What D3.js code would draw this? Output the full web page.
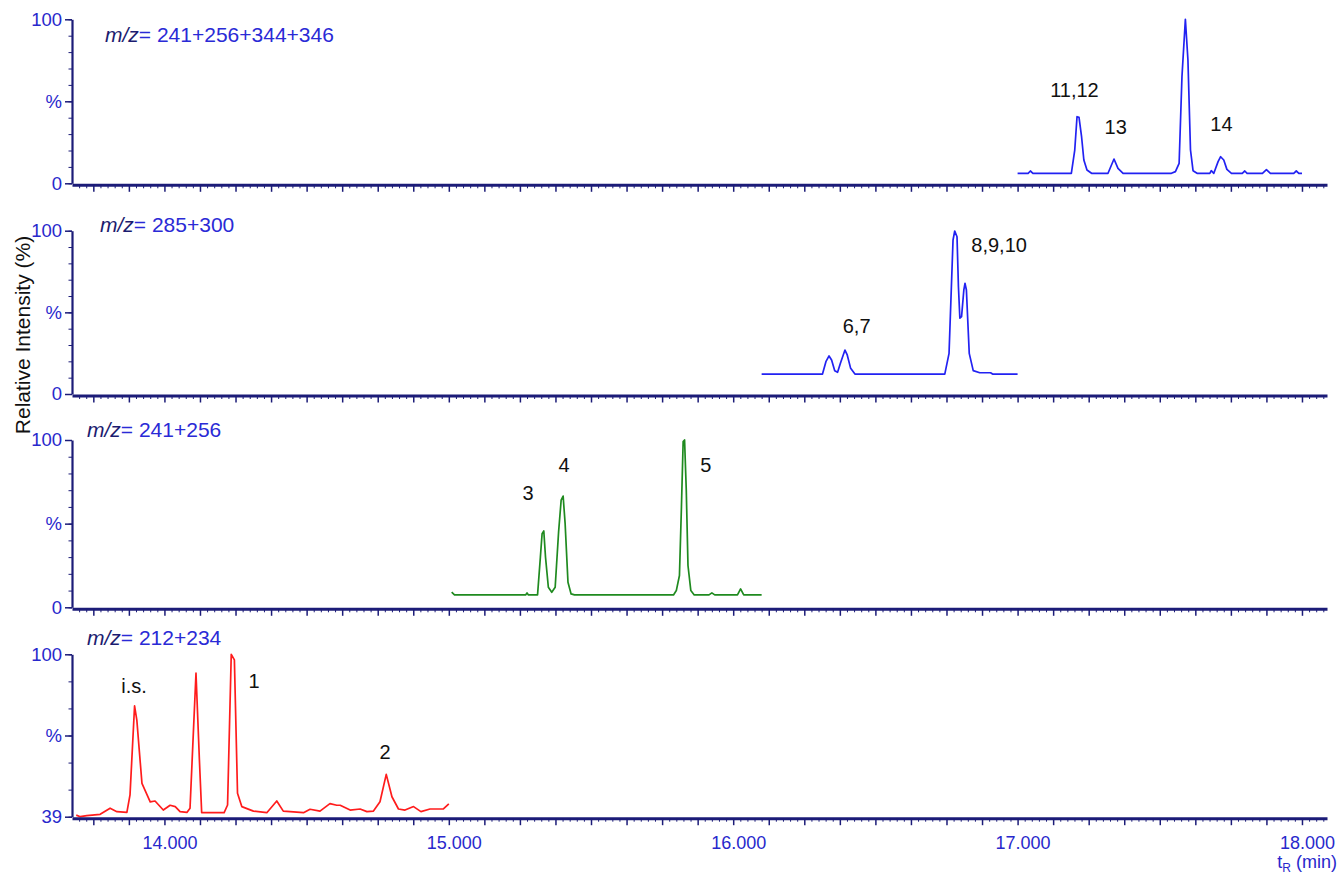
<!DOCTYPE html>
<html>
<head>
<meta charset="utf-8">
<script src="https://cdn.jsdelivr.net/npm/d3@7"></script>
<style>
body { margin: 0; background: #fff; }
svg { display: block; font-family: "Liberation Sans", Arial, Helvetica, sans-serif; }
.axis path, .axis line { stroke: #1c1c78; }
.axis text { fill: #2828cc; }
</style>
</head>
<body>
<script>
// Spur 1: m/z 241+256+344+346 (blau)
var trace1Time = [17.000, 17.037, 17.045, 17.054, 17.189, 17.201, 17.209, 17.216, 17.225, 17.233, 17.244, 17.260, 17.318, 17.339, 17.353, 17.371, 17.541, 17.555, 17.568, 17.578, 17.590, 17.599, 17.608, 17.617, 17.631, 17.676, 17.681, 17.690, 17.705, 17.714, 17.725, 17.736, 17.752, 17.790, 17.799, 17.807, 17.861, 17.875, 17.889, 17.971, 17.980, 17.989, 18.000];
var trace1Int = [6.1, 6.1, 7.5, 6.1, 6.1, 20.3, 40.6, 40.2, 28.4, 14.2, 8.1, 6.1, 6.1, 14.8, 9.1, 6.1, 6.1, 7.1, 12.2, 65, 100, 75.2, 20.3, 7.7, 6.1, 6.1, 7.7, 6.1, 13.2, 16.2, 14.2, 8.5, 6.1, 6.1, 7.5, 6.1, 6.1, 8.3, 6.1, 6.1, 7.5, 6.1, 6.1];

// Spur 2: m/z 285+300 (blau)
var trace2Time = [16.100, 16.314, 16.326, 16.337, 16.346, 16.357, 16.367, 16.377, 16.393, 16.401, 16.413, 16.428, 16.744, 16.759, 16.773, 16.779, 16.787, 16.792, 16.797, 16.803, 16.811, 16.815, 16.820, 16.830, 16.844, 16.867, 16.905, 16.912, 17.000];
var trace2Int = [12.2, 12.2, 19.8, 23.3, 20.8, 14.3, 13.3, 18.8, 26.9, 23.9, 15.7, 12.2, 12.2, 24.9, 94.3, 99.8, 96.3, 65.7, 46.4, 47.4, 63.7, 67.8, 63.7, 24.9, 14.3, 13.0, 13.0, 12.2, 12.2];

// Spur 3: m/z 241+256 (grün)
var trace3Time = [15.010, 15.020, 15.270, 15.275, 15.280, 15.312, 15.322, 15.328, 15.334, 15.340, 15.350, 15.362, 15.374, 15.386, 15.395, 15.402, 15.409, 15.419, 15.430, 15.442, 15.790, 15.800, 15.811, 15.818, 15.824, 15.829, 15.835, 15.841, 15.851, 15.863, 15.915, 15.925, 15.935, 16.015, 16.026, 16.037, 16.100];
var trace3Int = [9.0, 7.4, 7.4, 8.6, 7.4, 7.4, 30, 44, 45.6, 30, 12, 9, 12, 45, 64, 66.5, 50, 15, 8, 7.4, 7.4, 10, 19, 60, 99, 100, 70, 25, 10, 7.4, 7.4, 8.6, 7.4, 7.4, 11, 7.4, 7.4];

// Spur 4: m/z 212+234 (rot), Skala 39-100
var trace4Time = [13.690, 13.704, 13.727, 13.774, 13.809, 13.833, 13.868, 13.879, 13.895, 13.903, 13.921, 13.950, 13.967, 13.996, 14.020, 14.038, 14.055, 14.079, 14.090, 14.111, 14.123, 14.131, 14.210, 14.222, 14.235, 14.246, 14.257, 14.272, 14.313, 14.360, 14.395, 14.418, 14.489, 14.512, 14.547, 14.582, 14.606, 14.618, 14.653, 14.688, 14.712, 14.735, 14.758, 14.780, 14.800, 14.823, 14.846, 14.876, 14.902, 14.934, 14.981, 15.000];
var trace4Int = [39.6, 39.0, 39.4, 39.9, 42.2, 40.9, 40.6, 47.2, 80.6, 75.3, 51.5, 44.6, 44.9, 41.5, 43.3, 42.8, 40.9, 40.6, 42.2, 92.9, 60.3, 40.5, 40.5, 43.4, 100, 97.9, 47.8, 42.8, 41.1, 40.5, 44.9, 41.1, 40.5, 41.8, 41.1, 43.9, 43.3, 43.3, 41.5, 41.9, 40.9, 41.1, 44.6, 54.9, 46.5, 41.9, 41.5, 42.8, 40.9, 41.9, 41.9, 43.8];

// Massen-Titel
var massLabels = ["241+256+344+346", "285+300", "241+256", "212+234"];
// y-Minimum je Panel
var yMins = [0, 0, 0, 39];

// Peak-Beschriftungen (Text, Zeit, Intensität)
var peaks1 = [["11,12", 17.200, 52.6], ["13", 17.345, 30.1], ["14", 17.717, 31.9]];
var peaks2 = [["6,7", 16.434, 37.4], ["8,9,10", 16.935, 87]];
var peaks3 = [["3", 15.279, 64.1], ["4", 15.405, 80.9], ["5", 15.904, 80.9]];
var peaks4 = [["i.s.", 13.893, 85.5], ["1", 14.315, 87.3], ["2", 14.776, 60.7]];

// x-Achsen Beschriftungen
var xTickLabels = [14, 15, 16, 17, 18];

var width = 1340, height = 877;

// Panels zusammenbauen
var panels = [
    {time: trace1Time, val: trace1Int, color: "#2222f2", top: 19.3, bottom: 183.3, titleX: 105, titleY: 42, peaks: peaks1},
    {time: trace2Time, val: trace2Int, color: "#2222f2", top: 230.7, bottom: 394, titleX: 100, titleY: 231.7, peaks: peaks2},
    {time: trace3Time, val: trace3Int, color: "#1f8a1f", top: 440, bottom: 607.3, titleX: 87, titleY: 436.7, peaks: peaks3},
    {time: trace4Time, val: trace4Int, color: "#ff1c1c", top: 654.3, bottom: 816.7, titleX: 87, titleY: 645, peaks: peaks4}
];
panels.forEach((p, i) => { p.mass = massLabels[i]; p.yMin = yMins[i]; });

var svg = d3.select("body").append("svg")
    .attr("width", width)
    .attr("height", height);

// gemeinsame x Skala
var xScale = d3.scaleLinear()
    .domain([13.675, 18.088])
    .range([72, 1327]);

var allTicks = d3.range(548, 724).map(k => k * 0.025);
var minorTicks = allTicks.filter((d, k) => (k + 548) % 5 !== 0);
var majorTicks = allTicks.filter((d, k) => (k + 548) % 5 === 0 && d >= 13.74 && d <= 18.01);

var line = d3.line()
    .x(d => xScale(d[0]));

panels.forEach((p, i) => {
    var yScale = d3.scaleLinear()
        .domain([p.yMin, 100])
        .range([p.bottom, p.top]);

    var g = svg.append("g");

    // Spur zeichnen
    line.y(d => yScale(d[1]));
    g.append("path")
        .datum(d3.zip(p.time, p.val))
        .attr("fill", "none")
        .attr("stroke", p.color)
        .attr("stroke-width", 1.7)
        .attr("stroke-linejoin", "round")
        .attr("d", line);

    // y Achse: kleine Ticks
    var minorY = p.yMin === 0 ? d3.range(0, 101, 10) : d3.range(7).map(k => p.yMin + k * (100 - p.yMin) / 6);
    g.append("g")
        .attr("class", "axis")
        .attr("transform", "translate(72,0)")
        .call(d3.axisLeft(yScale).tickValues(minorY).tickSize(3.5).tickSizeOuter(0).tickFormat(""))
        .call(a => a.select(".domain").attr("stroke-width", 2.2));

    // y Achse: große Ticks mit Beschriftung
    var mid = (p.yMin + 100) / 2;
    g.append("g")
        .attr("class", "axis")
        .attr("transform", "translate(72,0)")
        .call(d3.axisLeft(yScale).tickValues([p.yMin, mid, 100]).tickSize(7).tickSizeOuter(0).tickPadding(3)
            .tickFormat(d => d === 100 ? "100" : (d === mid ? "%" : String(p.yMin))))
        .call(a => a.select(".domain").remove())
        .call(a => a.selectAll("line").attr("stroke-width", 1.5))
        .call(a => a.selectAll("text").style("font-size", "18.5px"));

    // x Achse
    var axisY = p.bottom + 1.5;
    g.append("g")
        .attr("class", "axis")
        .attr("transform", "translate(0," + axisY + ")")
        .call(d3.axisBottom(xScale).tickValues(minorTicks).tickSize(3.5).tickSizeOuter(0).tickFormat(""))
        .call(a => a.select(".domain").attr("stroke-width", 3));
    g.append("g")
        .attr("class", "axis")
        .attr("transform", "translate(0," + axisY + ")")
        .call(d3.axisBottom(xScale).tickValues(majorTicks).tickSize(7).tickSizeOuter(0).tickFormat(""))
        .call(a => a.select(".domain").remove())
        .call(a => a.selectAll("line").attr("stroke-width", 1.5));

    // Titel m/z
    var title = g.append("text")
        .attr("x", p.titleX)
        .attr("y", p.titleY)
        .style("font-size", "21px");
    title.append("tspan").attr("font-style", "italic").attr("fill", "#1c1c70").text("m/z");
    title.append("tspan").attr("fill", "#2a2ad6").text("= " + p.mass);

    // Peak Beschriftungen
    g.selectAll(".peak")
        .data(p.peaks)
        .enter()
        .append("text")
        .attr("class", "peak")
        .attr("x", d => xScale(d[1]))
        .attr("y", d => yScale(d[2]))
        .attr("text-anchor", "middle")
        .style("font-size", "20px")
        .attr("fill", "#111")
        .text(d => d[0]);

    // Zeit-Beschriftung nur unten
    if (i === panels.length - 1) {
        g.append("g")
            .attr("class", "axis")
            .attr("transform", "translate(0," + axisY + ")")
            .call(d3.axisBottom(xScale).tickValues(xTickLabels).tickSize(0).tickPadding(18).tickFormat(d3.format(".3f")))
            .call(a => a.select(".domain").remove())
            .call(a => a.selectAll("text").attr("dx", 5).style("font-size", "18px"));
    }
});

// y Achsen Label
svg.append("text")
    .attr("transform", "translate(30,335) rotate(-90)")
    .attr("text-anchor", "middle")
    .style("font-size", "21px")
    .attr("fill", "#111")
    .text("Relative Intensity (%)");

// x Achsen Label t_R (min)
var xl = svg.append("text")
    .attr("x", 1337)
    .attr("y", 868)
    .attr("text-anchor", "end")
    .style("font-size", "18px")
    .attr("fill", "#2828cc");
xl.append("tspan").text("t");
xl.append("tspan").attr("dy", 4).style("font-size", "12px").text("R");
xl.append("tspan").attr("dy", -4).text(" (min)");
</script>
</body>
</html>
